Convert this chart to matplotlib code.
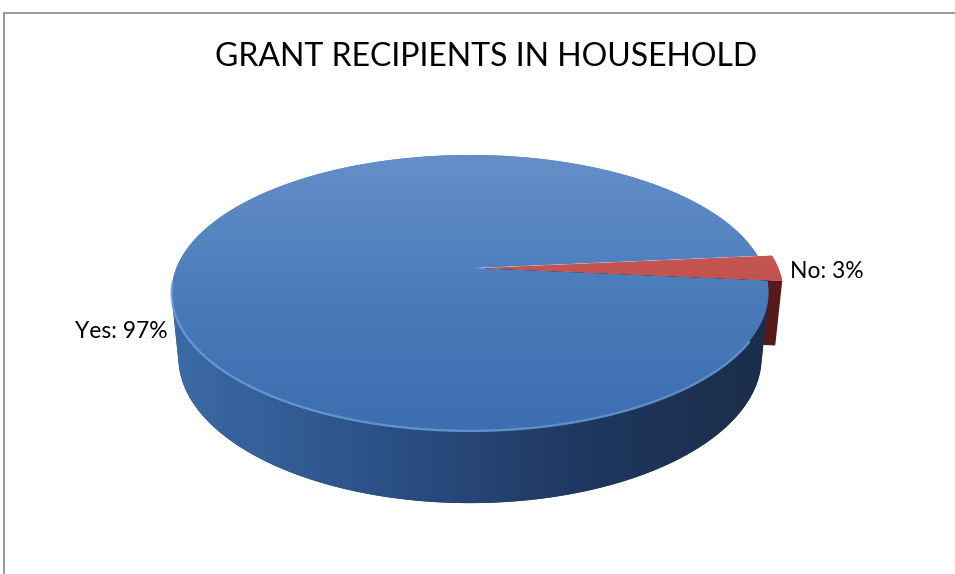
import numpy as np
import matplotlib.pyplot as plt
from matplotlib.patches import Polygon, Rectangle
from matplotlib.colors import LinearSegmentedColormap

# survey answers
labels = ["Yes", "No"]
shares = [97, 3]
explode = [0.0, 0.05]

title = "GRANT RECIPIENTS IN HOUSEHOLD"

# colour ramps for each slice: (top face, side wall)
top_ramps = [["#6690c9", "#4a7cbb", "#3c6db0"], ["#d4675f", "#c0504d", "#b4423f"]]
wall_ramps = [["#3d6ca8", "#2c5288", "#1f3860", "#1b2c48"], ["#561a1a", "#4a1616"]]

# 3d pie geometry, in pixels of the saved image
W, H = 955, 574
cx, cy = 470, 268
focal = 1470.0
dist = 5.006
elev = np.radians(26.96)
depth = 0.25
cam = np.array([0.0, dist * np.cos(elev), dist * np.sin(elev)])


def project(u, v, h):
    # u to the right, v towards the viewer, h up
    z = dist - v * np.cos(elev) - h * np.sin(elev)
    up = h * np.cos(elev) - v * np.sin(elev)
    return cx + focal * u / z, cy - focal * up / z


def rim(t, off, h):
    return project(off[0] + np.cos(t), off[1] - np.sin(t), h)


def grad_patch(ax, xs, ys, colors, horizontal, extent, z):
    poly = Polygon(np.column_stack([xs, ys]), closed=True, facecolor=colors[len(colors) // 2],
                   edgecolor="none", zorder=z)
    ax.add_patch(poly)
    cmap = LinearSegmentedColormap.from_list("g", colors)
    g = np.linspace(0, 1, 256)
    img = g[None, :] if horizontal else g[:, None]
    im = ax.imshow(img, cmap=cmap, extent=extent, aspect="auto", zorder=z,
                   interpolation="bilinear")
    im.set_clip_path(poly)
    return poly


plt.rcParams["font.family"] = ["Lato", "DejaVu Sans"]
fig = plt.figure(figsize=(W / 100, H / 100), dpi=100)
ax = fig.add_axes([0, 0, 1, 1])

fracs = np.array(shares, dtype=float) / sum(shares)
edges = np.radians(180 * fracs[1] + 360 * np.concatenate([[0], np.cumsum(fracs)]))
mids = (edges[:-1] + edges[1:]) / 2

wall_ext = (cx - 310, cx + 320, cy + 250, cy - 120)
top_ext = (cx - 310, cx + 320, cy + 170, cy - 120)

# small slices first, the big one covers them
order = np.argsort(fracs)
for z, i in enumerate(order):
    t0, t1 = edges[i], edges[i + 1]
    off = explode[i] * np.array([np.cos(mids[i]), -np.sin(mids[i])])
    base = 10 * z

    # outer wall, only the part facing the camera
    t = np.linspace(t0, t1, 400)
    n = np.column_stack([np.cos(t), -np.sin(t)])
    facing = n[:, 1] * cam[1] - (n @ off + 1) > 0
    if facing.any():
        tv = t[facing]
        xt, yt = rim(tv, off, 0)
        xb, yb = rim(tv, off, -depth)
        grad_patch(ax, np.r_[xt, xb[::-1]], np.r_[yt, yb[::-1]], wall_ramps[i], True,
                   wall_ext, base + 1)

    # cut faces of the exploded slice
    if explode[i] > 0:
        for te, sgn in ((t0, 1), (t1, -1)):
            nrm = sgn * np.array([np.sin(te), np.cos(te)])
            if nrm @ cam[:2] - nrm @ off > 0:
                xo, yo = rim(te, off, 0)
                xob, yob = rim(te, off, -depth)
                xc, yc = project(off[0], off[1], 0)
                xcb, ycb = project(off[0], off[1], -depth)
                ax.add_patch(Polygon([(xc, yc), (xo, yo), (xob, yob), (xcb, ycb)],
                                     closed=True, facecolor=wall_ramps[i][0],
                                     edgecolor="none", zorder=base + 2))

    # top face
    xs, ys = rim(t, off, 0)
    xc, yc = project(off[0], off[1], 0)
    grad_patch(ax, np.r_[xc, xs], np.r_[yc, ys], top_ramps[i], False, top_ext, base + 3)

    if i == 0:
        # light bevel along the front edge
        tf = np.linspace(np.radians(186), np.radians(330), 200)
        xf, yf = rim(tf, off, 0)
        ax.plot(xf, yf + 1, color="#6ea4e0", lw=1.6, alpha=0.8, zorder=base + 4,
                solid_capstyle="round")

# data labels
for i, lab in enumerate(labels):
    off = explode[i] * np.array([np.cos(mids[i]), -np.sin(mids[i])])
    text = f"{lab}: {shares[i]}%"
    if np.cos(mids[i]) < 0:
        x, y = rim(mids[i], off, -depth)
        ax.text(x - 15, y, text, ha="right", va="center", fontsize=16.5, color="black", zorder=50)
    else:
        x, y = rim(mids[i], off, 0)
        ax.text(x + 12, y + 3, text, ha="left", va="center", fontsize=16.5, color="black", zorder=50)

ax.text(W / 2 + 9, 57, title, ha="center", va="center", fontsize=23, color="black", zorder=50)

# chart frame, running off the right and bottom of the image
fig.add_artist(Rectangle((4 / W, -0.5), 2.0, 1.5 - 13 / H, transform=fig.transFigure,
                         facecolor="none", edgecolor="#868686", lw=1.2))

ax.set_xlim(0, W)
ax.set_ylim(H, 0)
ax.axis("off")
fig.savefig("out.png", dpi=100, facecolor="white")
